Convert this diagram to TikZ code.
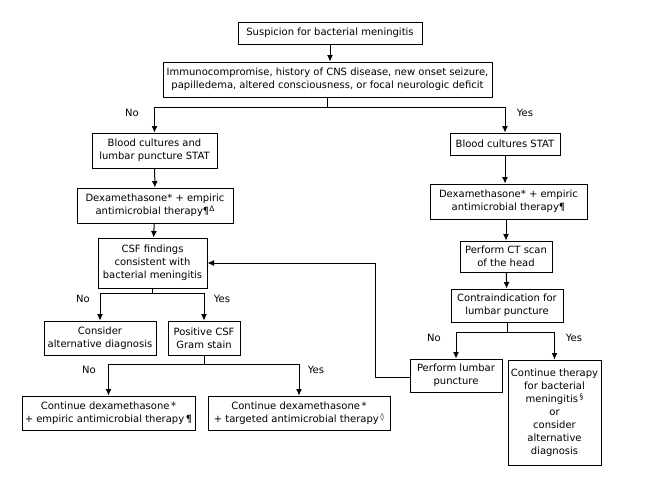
\documentclass[tikz,border=0pt]{standalone}
\usepackage{fontspec}
\setmainfont{DejaVu Sans}
\usetikzlibrary{arrows.meta}
\tikzset{
  box/.style={draw, line width=1pt, align=center, inner sep=1pt,
    font=\fontsize{10}{13}\selectfont},
  lbl/.style={font=\fontsize{10}{12}\selectfont, inner sep=0pt},
  conn/.style={line width=1pt},
  arr/.style={conn, -{Latex[length=6.5pt,width=6pt]}},
}
\newcommand{\sups}[1]{\raisebox{3.2pt}{\fontsize{7.5}{7.5}\selectfont #1}}
\newcommand{\bx}[6]{% name, x1, y1, x2, y2, text
  \node[box, minimum width={#4-#2}, minimum height={#5-#3}] (#1) at ({(#2+#4)/2},{(#3+#5)/2}) {#6};}
\begin{document}
\begin{tikzpicture}[x=1pt,y=-1pt]
\useasboundingbox (0,0) rectangle (652,480);
\fill[white] (0,0) rectangle (652,480);

\bx{sus}{238}{22}{422}{44}{Suspicion for bacterial meningitis}
\bx{imm}{163}{62}{492}{97}{Immunocompromise, history of CNS disease, new onset seizure,\\papilledema, altered consciousness, or focal neurologic deficit}
\bx{blp}{92}{133}{217}{168}{Blood cultures and\\lumbar puncture STAT}
\bx{bst}{450}{133}{560}{155}{Blood cultures STAT}
\bx{dxl}{77}{188}{233}{223}{Dexamethasone* + empiric\\antimicrobial therapy¶\sups{Δ}}
\bx{dxr}{430}{184}{587}{219}{Dexamethasone* + empiric\\antimicrobial therapy¶}
\bx{csf}{98}{238}{207}{288}{CSF findings\\consistent with\\bacterial meningitis}
\bx{ct}{460}{241}{552}{272}{Perform CT scan\\of the head}
\bx{con}{451}{289}{563}{322}{Contraindication for\\lumbar puncture}
\bx{alt}{44}{321}{156}{355}{Consider\\alternative diagnosis}
\bx{gram}{168}{321}{240}{355}{Positive CSF\\Gram stain}
\bx{plp}{410}{359}{502}{392}{Perform lumbar\\puncture}
\bx{ctb}{508}{360}{601}{465}{Continue therapy\\for bacterial\\meningitis\,\sups{§}\\or\\consider\\alternative\\diagnosis}
\bx{cemp}{22}{396}{195}{430}{Continue dexamethasone\,*\\+ empiric antimicrobial therapy\,¶}
\bx{ctar}{208}{396}{390}{430}{Continue dexamethasone\,*\\+ targeted antimicrobial therapy\,\sups{◊}}

% junction coordinates
\coordinate (j1) at (imm.south |- 0,107);
\coordinate (j2) at (csf.south |- 0,293);
\coordinate (j3) at (gram.south |- 0,364);
\coordinate (j4) at (con.south |- 0,332);
\coordinate (fb) at (375,377);

\draw[arr] (sus.south) -- (sus.south |- imm.north);
\draw[conn] (imm.south) -- (j1);
\draw[arr] (j1) -| (blp.north);
\draw[arr] (j1) -| (bst.north);
\node[lbl] (lno1) at (132,113) {No};
\node[lbl] (lyes1) at (525,113) {Yes};

\draw[arr] (blp) -- (dxl);
\draw[arr] (dxl) -- (csf);
\draw[arr] (bst.south) -- (bst.south |- dxr.north);
\draw[arr] (ct.north |- dxr.south) -- (ct.north);
\draw[arr] (ct) -- (con);

\draw[conn] (csf.south) -- (j2);
\draw[arr] (j2) -| (alt.north);
\draw[arr] (j2) -| (gram.north);
\node[lbl] (lno2) at (83,299) {No};
\node[lbl] (lyes2) at (222,299) {Yes};

\draw[conn] (gram.south) -- (j3);
\draw[arr] (j3) -| (cemp.north);
\draw[arr] (j3) -| (ctar.north);
\node[lbl] (lno3) at (89,370) {No};
\node[lbl] (lyes3) at (316,370) {Yes};

\draw[conn] (con.south) -- (j4);
\draw[arr] (j4) -| (plp.north);
\draw[arr] (j4) -| (ctb.north);
\node[lbl] (lno4) at (434,338) {No};
\node[lbl] (lyes4) at (574,338) {Yes};

\draw[arr] (plp.west |- fb) -- (fb) |- (csf.east);
\end{tikzpicture}
\end{document}
